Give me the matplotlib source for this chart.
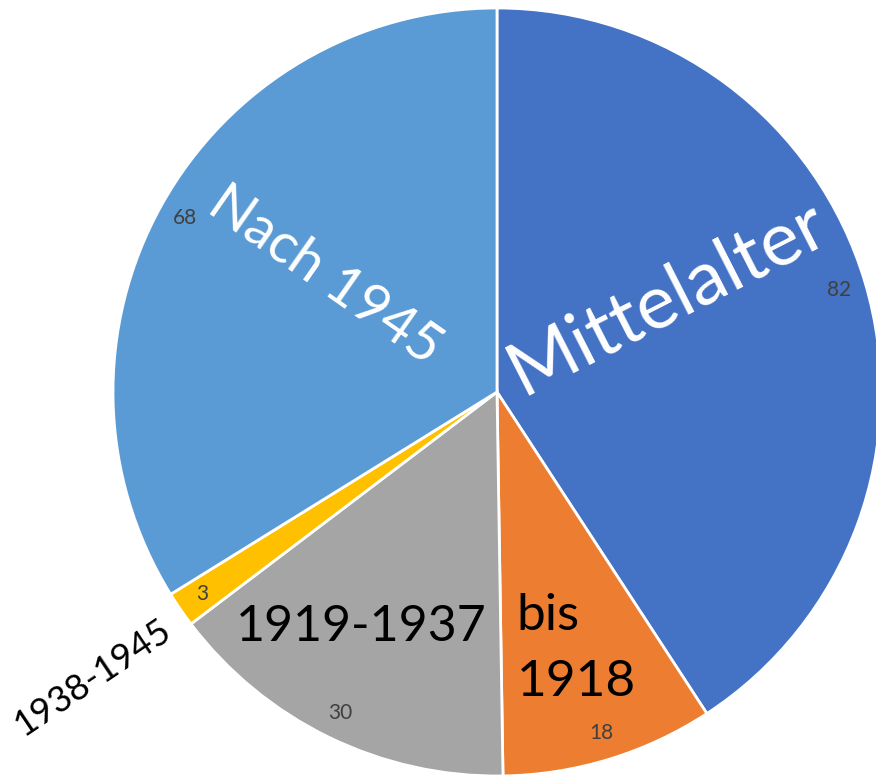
import numpy as np
import matplotlib
matplotlib.use('Agg')
import matplotlib.pyplot as plt

plt.rcParams['font.family'] = ['Lato', 'DejaVu Sans']

labels = ['Mittelalter', 'bis\n1918', '1919-1937', '1938-1945', 'Nach 1945']
values = [82, 18, 30, 3, 68]
colours = ['#4472C4', '#ED7D31', '#A5A5A5', '#FFC000', '#5B9BD5']

# label placement: (angle deg, radius, rotation, fontsize, colour, linespacing)
label_style = [
    (29, 0.506, 27, 54, 'white', 1.0),
    (-72.8, 0.70, 0, 37, 'black', 1.55),
    (240, 0.707, 0, 36, 'black', 1.0),
    (215.2, 1.29, 34, 26, 'black', 1.0),
    (146, 0.54, -35, 40, 'white', 1.0),
]

W, H = 876, 779
cx, cy, R = 497, 392, 384

fig = plt.figure(figsize=(W / 100, H / 100), dpi=100)
ax = fig.add_axes([0, 0, 1, 1])

total = sum(values)
wedges, texts, autotexts = ax.pie(
    values, colors=colours, startangle=90, counterclock=False,
    wedgeprops=dict(edgecolor='white', linewidth=2),
    autopct=lambda p: '%d' % round(p * total / 100),
    pctdistance=0.93, textprops=dict(color='#404040', fontsize=15))

ax.set_xlim(-cx / R, (W - cx) / R)
ax.set_ylim(-(H - cy) / R, cy / R)
ax.set_aspect('auto')
ax.axis('off')

for lab, (ang, r, rot, fs, col, ls) in zip(labels, label_style):
    a = np.deg2rad(ang)
    ax.text(r * np.cos(a), r * np.sin(a), lab, rotation=rot, fontsize=fs,
            color=col, ha='center', va='center', multialignment='left',
            linespacing=ls, rotation_mode='anchor')

fig.savefig('out.png', dpi=100)
